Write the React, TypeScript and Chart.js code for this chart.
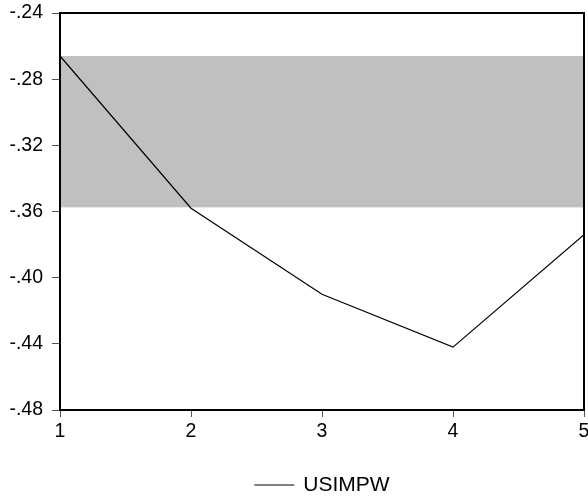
import React, { useEffect, useRef } from "react";
import { Chart, registerables } from "chart.js";

Chart.register(...registerables);

const xValues = [1, 2, 3, 4, 5];
const usimpw = [-0.266, -0.358, -0.41, -0.442, -0.374];
const bandTop = -0.266;
const bandBottom = -0.3575;
const yMin = -0.48;
const yMax = -0.24;
const yStep = 0.04;
const seriesName = "USIMPW";

const FONT = "'Liberation Sans', Arial, sans-serif";
const TICK_SIZE = 19.5;
const LEGEND_SIZE = 21;

const bandPlugin = {
  id: "band",
  beforeDatasetsDraw(chart: any) {
    const { ctx, chartArea, scales } = chart;
    const y1 = scales.y.getPixelForValue(bandTop);
    const y2 = scales.y.getPixelForValue(bandBottom);
    ctx.save();
    ctx.fillStyle = "#c0c0c0";
    ctx.fillRect(chartArea.left, y1, chartArea.right - chartArea.left, y2 - y1);
    ctx.restore();
  },
  afterDatasetsDraw(chart: any) {
    const { ctx, chartArea } = chart;
    ctx.save();
    ctx.strokeStyle = "#000";
    ctx.lineWidth = 2;
    ctx.strokeRect(chartArea.left, chartArea.top, chartArea.right - chartArea.left, chartArea.bottom - chartArea.top);
    ctx.restore();
  },
  afterDraw(chart: any) {
    const { ctx, chartArea } = chart;
    ctx.save();
    ctx.font = `${LEGEND_SIZE}px ${FONT}`;
    const label = chart.data.datasets[0].label;
    const tw = ctx.measureText(label).width;
    const lineLen = 40;
    const gap = 9;
    const total = lineLen + gap + tw;
    const cx = (chartArea.left + chartArea.right) / 2;
    const start = cx - total / 2;
    const y = chartArea.bottom + 75;
    ctx.strokeStyle = "#000";
    ctx.lineWidth = 1.2;
    ctx.beginPath();
    ctx.moveTo(start, y);
    ctx.lineTo(start + lineLen, y);
    ctx.stroke();
    ctx.fillStyle = "#000";
    ctx.textBaseline = "middle";
    ctx.textAlign = "left";
    ctx.fillText(label, start + lineLen + gap, y);
    ctx.restore();
  },
};

export default function App() {
  const ref = useRef<HTMLCanvasElement>(null);
  useEffect(() => {
    if (!ref.current) return;
    const chart = new Chart(ref.current, {
      type: "line",
      data: {
        datasets: [
          {
            label: seriesName,
            data: xValues.map((x, i) => ({ x, y: usimpw[i] })),
            borderColor: "#000",
            backgroundColor: "#000",
            borderWidth: 1.2,
            pointRadius: 0,
            tension: 0,
          },
        ],
      },
      options: {
        animation: false,
        responsive: true,
        maintainAspectRatio: false,
        layout: { padding: { top: 13, right: 4, left: 0, bottom: 0 } },
        plugins: {
          tooltip: { enabled: false },
          legend: { display: false },
        },
        scales: {
          x: {
            type: "linear",
            min: 1,
            max: 5,
            ticks: { stepSize: 1, color: "#000", padding: 3, font: { family: FONT, size: TICK_SIZE }, maxRotation: 0 },
            grid: { drawOnChartArea: false, drawTicks: true, tickLength: 7, color: "#555" },
            border: { display: false },
            afterFit(scale: any) {
              scale.height = 86;
              scale.paddingLeft = 0;
              scale.paddingRight = 0;
            },
          },
          y: {
            min: yMin,
            max: yMax,
            ticks: {
              stepSize: yStep,
              color: "#000",
              padding: 9,
              font: { family: FONT, size: TICK_SIZE },
              callback: (v: any) => Number(v).toFixed(2).replace("0.", "."),
            },
            grid: { drawOnChartArea: false, drawTicks: true, tickLength: 8, color: "#555" },
            border: { display: false },
            afterFit(scale: any) {
              scale.width = 60;
              scale.paddingTop = 0;
              scale.paddingBottom = 0;
            },
          },
        },
      },
      plugins: [bandPlugin],
    } as any);
    return () => chart.destroy();
  }, []);
  return (
    <div style={{ position: "absolute", left: 0, top: 0, width: 588, height: 496 }}>
      <canvas ref={ref} />
    </div>
  );
}
